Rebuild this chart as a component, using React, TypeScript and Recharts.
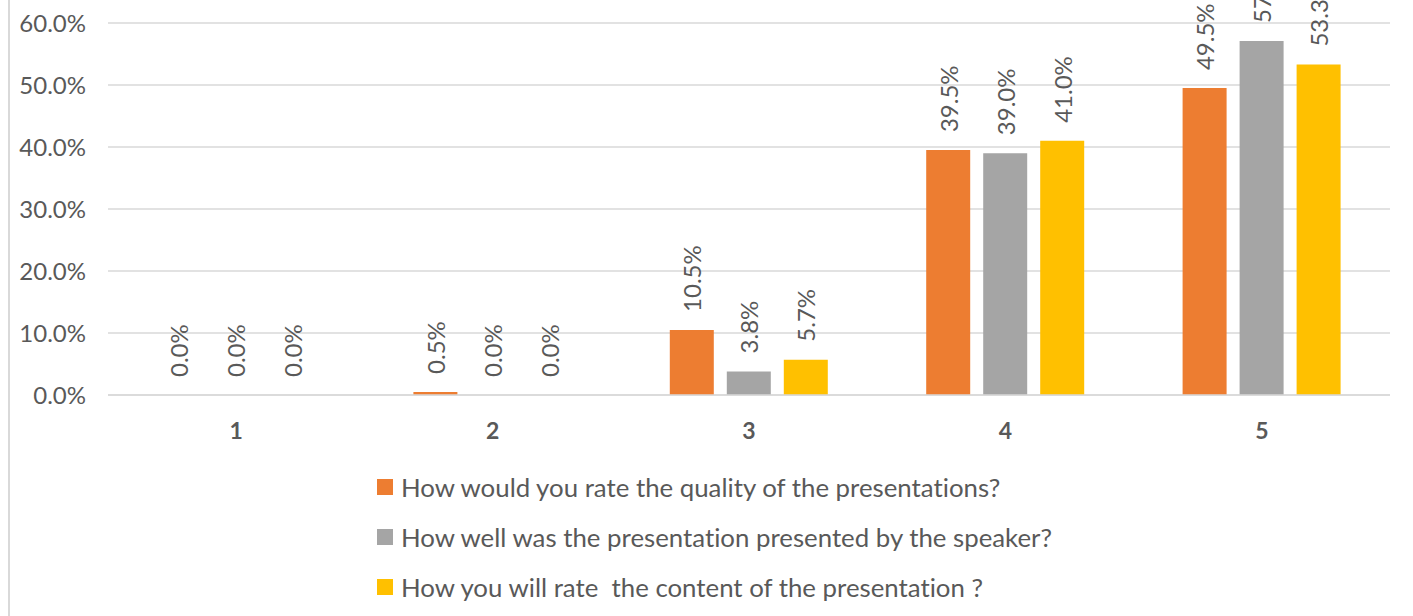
import { BarChart, Bar, XAxis, YAxis, CartesianGrid, Legend, LabelList } from "recharts";

const categories = ["1", "2", "3", "4", "5"];
const quality = [0.0, 0.5, 10.5, 39.5, 49.5];
const speaker = [0.0, 0.0, 3.8, 39.0, 57.1];
const content = [0.0, 0.0, 5.7, 41.0, 53.3];
const yTicks = [0, 10, 20, 30, 40, 50, 60];

const seriesNames = [
  "How would you rate the quality of the presentations?",
  "How well was the presentation presented by the speaker?",
  "How you will rate  the content of the presentation ?",
];
const colors = ["#ED7D31", "#A5A5A5", "#FFC000"];

const data = categories.map((c, i) => ({
  cat: c,
  quality: quality[i],
  speaker: speaker[i],
  content: content[i],
}));

const TEXT = "#595959";
const GRID = "#D9D9D9";

const BarLabel = (props: any) => {
  const { x, y, width, value } = props;
  const cx = Number(x) + Number(width) / 2;
  const cy = Number(y) - 18;
  return (
    <text
      x={cx}
      y={cy}
      transform={`rotate(-90, ${cx}, ${cy})`}
      textAnchor="start"
      dominantBaseline="central"
      fill={TEXT}
      fontSize={24}
      style={{ fontVariantLigatures: "none" }}
    >
      {`${Number(value).toFixed(1)}%`}
    </text>
  );
};

const renderLegend = () => (
  <div>
    {seriesNames.map((name, i) => (
      <div
        key={name}
        style={{ height: 50, display: "flex", alignItems: "center", whiteSpace: "pre" }}
      >
        <span style={{ width: 16, height: 16, background: colors[i], display: "inline-block", marginRight: 8 }} />
        <span style={{ color: TEXT, fontSize: 25.8, fontVariantLigatures: "none" }}>{name}</span>
      </div>
    ))}
  </div>
);

export default function App() {
  const keys = ["quality", "speaker", "content"];
  return (
    <div
      style={{
        position: "fixed",
        left: 0,
        top: 0,
        width: 1413,
        height: 616,
        overflow: "hidden",
        background: "#fff",
        fontFamily: "Lato, sans-serif",
      }}
    >
      <div style={{ position: "absolute", left: 8, top: 0, width: 2, height: 616, background: GRID }} />
      <BarChart
        width={1413}
        height={616}
        data={data}
        margin={{ top: 23, right: 23, left: 0, bottom: 161 }}
        barSize={44}
        barGap={13}
      >
        <CartesianGrid vertical={false} stroke={GRID} strokeWidth={1.5} />
        <XAxis
          dataKey="cat"
          height={60}
          axisLine={{ stroke: GRID, strokeWidth: 1.5 }}
          tickLine={false}
          tickMargin={22}
          tick={{ fill: TEXT, fontSize: 23, fontWeight: "bold" }}
        />
        <YAxis
          width={108}
          domain={[0, 60]}
          ticks={yTicks}
          axisLine={false}
          tickLine={false}
          tickMargin={16}
          tickFormatter={(v) => `${Number(v).toFixed(1)}%`}
          tick={{ fill: TEXT, fontSize: 24 }}
        />
        <Legend
          layout="vertical"
          verticalAlign="middle"
          align="center"
          content={renderLegend}
          wrapperStyle={{ top: 462, left: 377, width: 900 }}
        />
        {keys.map((k, i) => (
          <Bar
            key={k}
            dataKey={k}
            name={seriesNames[i]}
            fill={colors[i]}
            minPointSize={0.01}
            isAnimationActive={false}
          >
            <LabelList dataKey={k} content={BarLabel} />
          </Bar>
        ))}
      </BarChart>
    </div>
  );
}
